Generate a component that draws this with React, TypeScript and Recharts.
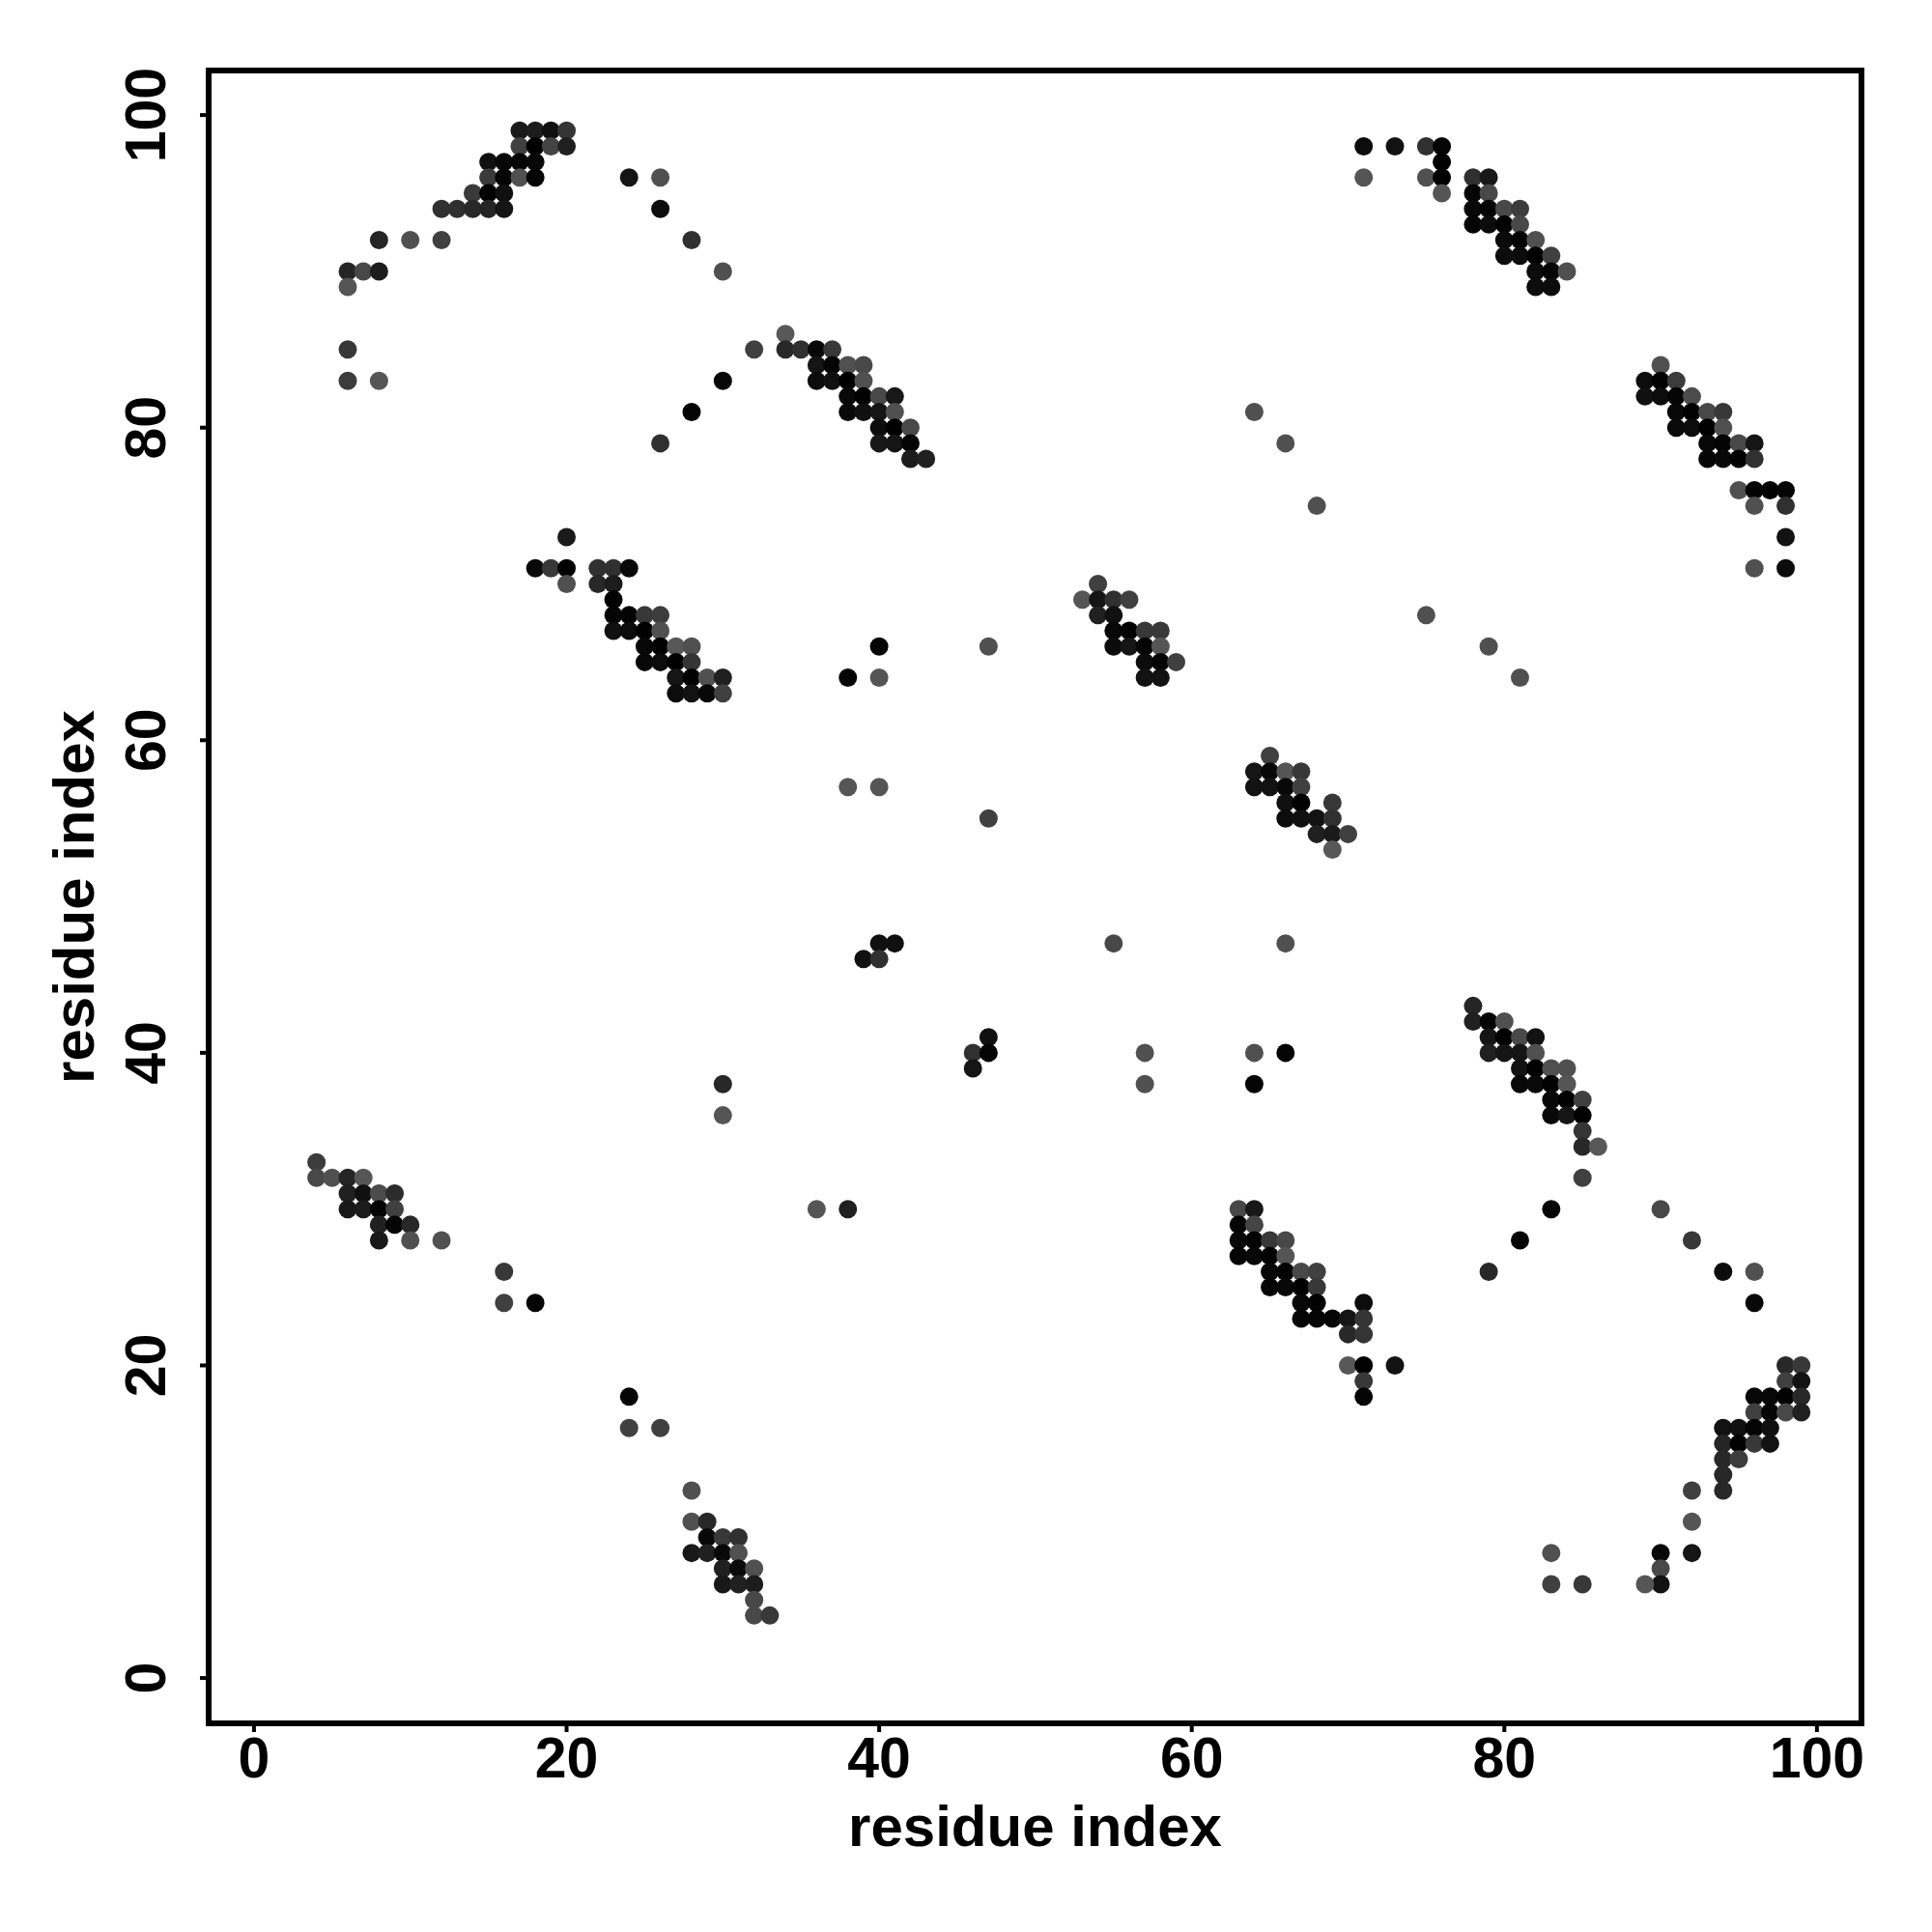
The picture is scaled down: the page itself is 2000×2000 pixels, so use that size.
import React from "react";
import { ScatterChart, Scatter, XAxis, YAxis, ReferenceArea, Label } from "recharts";

type P = [number, number, number];
const g = (x: number, y: number, v: number): P => [x, y, v];

const topLeft: P[] = [
  g(17,99,0x1a),g(18,99,0x1c),g(19,99,0x10),g(20,99,0x35),
  g(17,98,0x40),g(18,98,0x00),g(19,98,0x44),g(20,98,0x20),
  g(15,97,0x10),g(16,97,0x08),g(17,97,0x05),g(18,97,0x08),
  g(15,96,0x3a),g(16,96,0x05),g(17,96,0x50),g(18,96,0x05),g(24,96,0x15),g(26,96,0x50),
  g(14,95,0x3a),g(15,95,0x00),g(16,95,0x10),
  g(12,94,0x30),g(13,94,0x30),g(14,94,0x28),g(15,94,0x25),g(16,94,0x15),g(26,94,0x0c),
  g(8,92,0x25),g(10,92,0x50),g(12,92,0x40),g(28,92,0x30),
  g(6,90,0x25),g(7,90,0x48),g(8,90,0x1c),g(30,90,0x50),
  g(6,89,0x55),g(6,85,0x38),g(6,83,0x3c),g(8,83,0x55),
  g(30,83,0x08),g(28,81,0x04),g(26,79,0x30),
];
const helixB: P[] = [
  g(34,86,0x58),
  g(32,85,0x40),g(34,85,0x28),g(35,85,0x30),g(36,85,0x08),g(37,85,0x38),
  g(36,84,0x15),g(37,84,0x05),g(38,84,0x50),g(39,84,0x48),
  g(36,83,0x0c),g(37,83,0x10),g(38,83,0x00),g(39,83,0x50),
  g(38,82,0x08),g(39,82,0x02),g(40,82,0x48),g(41,82,0x18),
  g(38,81,0x08),g(39,81,0x10),g(40,81,0x15),g(41,81,0x50),
  g(40,80,0x0c),g(41,80,0x00),g(42,80,0x48),
  g(40,79,0x18),g(41,79,0x15),g(42,79,0x05),
  g(42,78,0x1c),g(43,78,0x20),
];
const topRight: P[] = [
  g(71,98,0x0c),g(73,98,0x12),g(75,98,0x30),g(76,98,0x05),
  g(76,97,0x00),
  g(71,96,0x55),g(75,96,0x50),g(76,96,0x02),g(78,96,0x30),g(79,96,0x18),
  g(76,95,0x55),g(78,95,0x05),g(79,95,0x48),
  g(78,94,0x08),g(79,94,0x04),g(80,94,0x48),g(81,94,0x3c),
  g(78,93,0x05),g(79,93,0x0c),g(80,93,0x00),g(81,93,0x48),
  g(80,92,0x0a),g(81,92,0x04),g(82,92,0x50),
  g(80,91,0x0c),g(81,91,0x0c),g(82,91,0x00),g(83,91,0x40),
  g(82,90,0x0c),g(83,90,0x05),g(84,90,0x50),
  g(82,89,0x0c),g(83,89,0x0c),
];
const farRight: P[] = [
  g(90,84,0x50),
  g(89,83,0x0c),g(90,83,0x02),g(91,83,0x3c),
  g(89,82,0x10),g(90,82,0x0c),g(91,82,0x05),g(92,82,0x4c),
  g(91,81,0x08),g(92,81,0x02),g(93,81,0x48),g(94,81,0x38),
  g(91,80,0x0a),g(92,80,0x0c),g(93,80,0x00),g(94,80,0x50),
  g(93,79,0x08),g(94,79,0x04),g(95,79,0x48),g(96,79,0x15),
  g(93,78,0x05),g(94,78,0x08),g(95,78,0x02),g(96,78,0x30),
  g(95,76,0x50),g(96,76,0x02),g(97,76,0x02),g(98,76,0x05),
  g(96,75,0x50),g(98,75,0x30),
  g(98,73,0x12),g(96,71,0x50),g(98,71,0x0c),
];
const midLeft: P[] = [
  g(20,73,0x1a),
  g(18,71,0x08),g(19,71,0x38),g(20,71,0x02),g(22,71,0x30),g(23,71,0x30),g(24,71,0x08),
  g(20,70,0x50),g(22,70,0x28),g(23,70,0x1c),
  g(23,69,0x02),
  g(23,68,0x04),g(24,68,0x04),g(25,68,0x38),g(26,68,0x3c),
  g(23,67,0x10),g(24,67,0x0c),g(25,67,0x00),g(26,67,0x50),
  g(25,66,0x08),g(26,66,0x02),g(27,66,0x58),g(28,66,0x50),
  g(25,65,0x08),g(26,65,0x0c),g(27,65,0x00),g(28,65,0x35),
  g(27,64,0x15),g(28,64,0x02),g(29,64,0x50),g(30,64,0x20),
  g(27,63,0x0c),g(28,63,0x12),g(29,63,0x08),g(30,63,0x40),
];
const center: P[] = [
  g(54,70,0x40),
  g(53,69,0x55),g(54,69,0x15),g(55,69,0x30),g(56,69,0x40),
  g(54,68,0x20),g(55,68,0x10),
  g(55,67,0x08),g(56,67,0x02),g(57,67,0x38),g(58,67,0x38),
  g(55,66,0x0c),g(56,66,0x15),g(57,66,0x05),g(58,66,0x55),
  g(57,65,0x0c),g(58,65,0x05),g(59,65,0x40),
  g(57,64,0x12),g(58,64,0x12),
  g(65,59,0x40),
  g(64,58,0x15),g(65,58,0x08),g(66,58,0x55),g(67,58,0x38),
  g(64,57,0x12),g(65,57,0x12),g(66,57,0x08),g(67,57,0x40),
  g(66,56,0x10),g(67,56,0x02),g(69,56,0x38),
  g(66,55,0x0c),g(67,55,0x10),g(68,55,0x12),g(69,55,0x30),
  g(68,54,0x20),g(69,54,0x1a),g(70,54,0x40),
  g(69,53,0x58),
];
const scattered: P[] = [
  g(64,81,0x50),g(66,79,0x50),g(68,75,0x50),g(75,68,0x50),g(79,66,0x50),g(81,64,0x50),
  g(40,66,0x05),g(38,64,0x05),g(40,64,0x55),g(47,66,0x50),g(38,57,0x55),g(40,57,0x55),g(47,55,0x40),
  g(55,47,0x48),g(66,47,0x50),g(40,47,0x10),g(41,47,0x10),g(39,46,0x10),g(40,46,0x30),
  g(47,41,0x10),g(46,40,0x30),g(47,40,0x05),g(46,39,0x15),
  g(57,40,0x50),g(57,38,0x50),g(64,40,0x50),g(66,40,0x05),g(64,38,0x05),
  g(30,38,0x28),g(30,36,0x55),g(36,30,0x55),g(38,30,0x20),
];
const lowerRight: P[] = [
  g(78,43,0x25),
  g(78,42,0x20),g(79,42,0x05),g(80,42,0x50),
  g(79,41,0x15),g(80,41,0x02),g(81,41,0x48),g(82,41,0x12),
  g(79,40,0x20),g(80,40,0x15),g(81,40,0x15),g(82,40,0x50),
  g(81,39,0x12),g(82,39,0x02),g(83,39,0x50),g(84,39,0x50),
  g(81,38,0x08),g(82,38,0x0a),g(83,38,0x02),g(84,38,0x55),
  g(83,37,0x08),g(84,37,0x02),g(85,37,0x40),
  g(83,36,0x08),g(84,36,0x15),g(85,36,0x02),
  g(85,35,0x35),g(85,34,0x28),g(86,34,0x58),g(85,32,0x40),
  g(90,30,0x48),g(92,28,0x38),g(94,26,0x0c),g(96,26,0x50),g(96,24,0x08),
  g(83,30,0x05),g(81,28,0x05),g(79,26,0x28),
];
const lowerMid: P[] = [
  g(63,30,0x48),g(64,30,0x18),
  g(63,29,0x05),g(64,29,0x45),
  g(63,28,0x08),g(64,28,0x04),g(65,28,0x38),g(66,28,0x48),
  g(63,27,0x05),g(64,27,0x08),g(65,27,0x02),g(66,27,0x55),
  g(65,26,0x08),g(66,26,0x02),g(67,26,0x48),g(68,26,0x40),
  g(65,25,0x05),g(66,25,0x08),g(67,25,0x00),g(68,25,0x38),
  g(67,24,0x08),g(68,24,0x02),g(71,24,0x0c),
  g(67,23,0x05),g(68,23,0x05),g(69,23,0x05),g(70,23,0x15),g(71,23,0x35),
  g(70,22,0x28),g(71,22,0x35),
  g(70,20,0x58),g(71,20,0x02),g(73,20,0x12),
  g(71,19,0x38),g(71,18,0x05),
];
const bottomRight: P[] = [
  g(98,20,0x28),g(99,20,0x38),
  g(98,19,0x40),g(99,19,0x12),
  g(96,18,0x08),g(97,18,0x08),g(98,18,0x02),g(99,18,0x28),
  g(96,17,0x40),g(97,17,0x05),g(98,17,0x48),g(99,17,0x20),
  g(94,16,0x12),g(95,16,0x10),g(96,16,0x05),g(97,16,0x10),
  g(94,15,0x25),g(95,15,0x02),g(96,15,0x38),g(97,15,0x12),
  g(94,14,0x28),g(95,14,0x3c),
  g(94,13,0x28),g(92,12,0x40),g(94,12,0x28),
  g(92,10,0x55),g(92,8,0x15),g(90,8,0x08),g(90,7,0x48),g(90,6,0x12),g(89,6,0x55),
  g(85,6,0x38),g(83,6,0x40),g(83,8,0x50),
];
const lowerLeft: P[] = [
  g(4,33,0x3c),
  g(4,32,0x48),g(5,32,0x50),g(6,32,0x25),g(7,32,0x55),
  g(6,31,0x20),g(7,31,0x10),g(8,31,0x4c),g(9,31,0x2c),
  g(6,30,0x18),g(7,30,0x1c),g(8,30,0x04),g(9,30,0x40),
  g(8,29,0x20),g(9,29,0x05),g(10,29,0x28),
  g(8,28,0x18),g(10,28,0x50),g(12,28,0x50),
  g(16,26,0x38),g(16,24,0x40),g(18,24,0x05),
  g(24,18,0x05),g(24,16,0x40),g(26,16,0x40),
];
const bottomMid: P[] = [
  g(28,12,0x50),
  g(28,10,0x50),g(29,10,0x28),
  g(29,9,0x08),g(30,9,0x38),g(31,9,0x30),
  g(28,8,0x18),g(29,8,0x20),g(30,8,0x08),g(31,8,0x50),
  g(30,7,0x20),g(31,7,0x0a),g(32,7,0x50),
  g(30,6,0x18),g(31,6,0x20),g(32,6,0x1c),
  g(32,5,0x48),g(32,4,0x48),g(33,4,0x38),
];

const axisTicks = [0, 20, 40, 60, 80, 100];
const axisLabel = "residue index";
const font = "'Liberation Sans', Arial, sans-serif";

const points = [
  ...topLeft, ...helixB, ...topRight, ...farRight, ...midLeft, ...center,
  ...scattered, ...lowerRight, ...lowerMid, ...bottomRight, ...lowerLeft, ...bottomMid,
].map(([x, y, v]) => ({ x, y, fill: `rgb(${v},${v},${v})` }));

const Dot = (p: any) => <circle cx={p.cx} cy={p.cy} r={9.5} fill={p.payload?.fill ?? p.fill} />;

const XTick = (p: any) => (
  <text x={p.x} y={1840} textAnchor="middle" fontFamily={font} fontWeight="bold" fontSize={59} fill="#000">
    {p.payload.value}
  </text>
);
const YTick = (p: any) => (
  <text
    transform={`translate(171 ${p.y}) rotate(-90)`}
    textAnchor="middle"
    fontFamily={font}
    fontWeight="bold"
    fontSize={59}
    fill="#000"
  >
    {p.payload.value}
  </text>
);

const X_DOMAIN: [number, number] = [-2.9, 102.85];
const Y_DOMAIN: [number, number] = [-2.9, 102.85];

export default function App() {
  return (
    <div style={{ position: "absolute", left: 0, top: 0, width: 2000, height: 2000, background: "#fff" }}>
      <ScatterChart width={2000} height={2000} margin={{ top: 73, right: 73, bottom: 0, left: 0 }}>
        <XAxis
          type="number"
          dataKey="x"
          domain={X_DOMAIN}
          ticks={axisTicks}
          allowDataOverflow
          height={216}
          axisLine={false}
          tickLine={{ stroke: "#000", strokeWidth: 4 }}
          tickSize={9}
          tick={<XTick />}
          interval={0}
        >
          <Label value={axisLabel} position="insideBottom" offset={89} fontFamily={font} fontWeight="bold" fontSize={60} fill="#000" />
        </XAxis>
        <YAxis
          type="number"
          dataKey="y"
          domain={Y_DOMAIN}
          ticks={axisTicks}
          allowDataOverflow
          width={216}
          axisLine={false}
          tickLine={{ stroke: "#000", strokeWidth: 4 }}
          tickSize={9}
          tick={<YTick />}
          interval={0}
        >
          <Label value={axisLabel} angle={-90} position="insideLeft" textAnchor="middle" offset={0} dx={76} fontFamily={font} fontWeight="bold" fontSize={60} fill="#000" />
        </YAxis>
        <Scatter data={points} isAnimationActive={false} shape={<Dot />} />
        <ReferenceArea x1={X_DOMAIN[0]} x2={X_DOMAIN[1]} y1={Y_DOMAIN[0]} y2={Y_DOMAIN[1]} fill="none" stroke="#000" strokeWidth={6} ifOverflow="visible" />
      </ScatterChart>
    </div>
  );
}
